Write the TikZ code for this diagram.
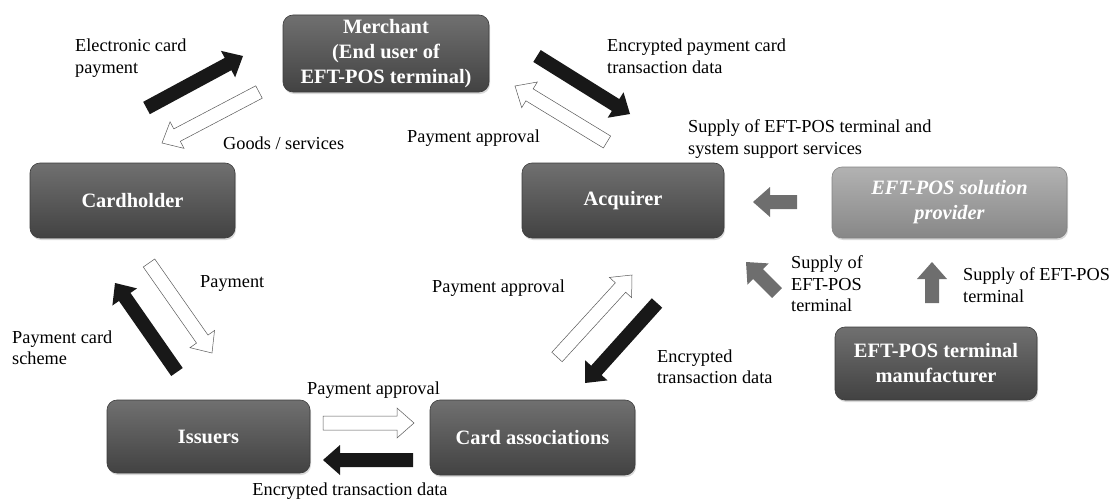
\documentclass[tikz,border=0pt]{standalone}
\usepackage{fontspec}
\setmainfont{Liberation Serif}
\usetikzlibrary{calc,shadows}
\definecolor{boxtop}{RGB}{112,112,112}\definecolor{boxbot}{RGB}{66,66,66}\definecolor{boxedge}{RGB}{60,60,60}
\definecolor{lighttop}{RGB}{178,178,178}\definecolor{lightbot}{RGB}{135,135,135}\definecolor{lightedge}{RGB}{130,130,130}
\definecolor{arrblack}{RGB}{24,24,24}\definecolor{arrgray}{RGB}{110,110,110}
\tikzset{box/.style={rounded corners=10pt,top color=boxtop,bottom color=boxbot,draw=boxedge,line width=.6pt,text=white,
  font=\fontsize{20.4}{25}\selectfont\bfseries,align=center,minimum width=205pt,minimum height=75pt,inner sep=0pt,
  drop shadow={shadow xshift=1pt,shadow yshift=-2pt,opacity=.3,fill=gray}},
  lightbox/.style={box,top color=lighttop,bottom color=lightbot,draw=lightedge,font=\fontsize{20.4}{25}\selectfont\bfseries\itshape},
  lbl/.style={font=\fontsize{18.3}{21.5}\selectfont,align=left,anchor=west,inner sep=0pt},
  blk/.style={fill=arrblack,draw=none},wht/.style={fill=white,draw=gray!70!black,line width=.5pt},gry/.style={fill=arrgray,draw=none}}
\newcommand{\blockarrow}[3]{\path ($(#3)!17pt!(#2)$) coordinate (hb);
  \draw[#1] ($(#2)!7pt!90:(#3)$)--($(hb)!7pt!90:(#3)$)--($(hb)!15pt!90:(#3)$)--(#3)--($(hb)!15pt!-90:(#3)$)--($(hb)!7pt!-90:(#3)$)--($(#2)!7pt!-90:(#3)$)--cycle;}
\begin{document}
\begin{tikzpicture}[x=1pt,y=-1pt]
\useasboundingbox (0,0) rectangle (1114,503);
\node[box,minimum width=206pt,minimum height=77pt] (merchant) at (386,53.5) {Merchant\\(End user of\\EFT-POS terminal)};
\node[box] (cardholder) at (132.5,200.5) {Cardholder};
\node[box,minimum width=202pt] (acquirer) at (623,200.5) {Acquirer};
\node[lightbox,minimum width=235pt,minimum height=71pt] (provider) at (949.5,202.5) {EFT-POS solution\\provider};
\node[box,minimum width=202pt,minimum height=73pt] (maker) at (936,363.5) {EFT-POS terminal\\manufacturer};
\node[box,minimum width=203pt,minimum height=73pt] (issuers) at (208.5,436.5) {Issuers};
\node[box] (assoc) at (532.5,437.5) {Card associations};
\coordinate (a1s) at (146.5,108);\coordinate (a1e) at (243,56);\coordinate (a2s) at (259,92);\coordinate (a2e) at (162,143);
\coordinate (a3s) at (537,56);\coordinate (a3e) at (630,114);\coordinate (a4s) at (607,142);\coordinate (a4e) at (515,86);
\coordinate (a5s) at (557,357);\coordinate (a5e) at (632,275);\coordinate (a6s) at (657,303);\coordinate (a6e) at (585,383);
\coordinate (a7s) at (797,202);\coordinate (a7e) at (753,202);\coordinate (a8s) at (777,293);\coordinate (a8e) at (746,262);
\coordinate (a9s) at (932,303);\coordinate (a9e) at (932,262);\coordinate (a10s) at (177,372);\coordinate (a10e) at (115,283);
\coordinate (a11s) at (149,263);\coordinate (a11e) at (212,353);\coordinate (a12s) at (323,423);\coordinate (a12e) at (414,423);
\coordinate (a13s) at (413,460);\coordinate (a13e) at (323,460);
\blockarrow{blk}{a1s}{a1e}\blockarrow{wht}{a2s}{a2e}\blockarrow{blk}{a3s}{a3e}\blockarrow{wht}{a4s}{a4e}
\blockarrow{wht}{a5s}{a5e}\blockarrow{blk}{a6s}{a6e}\blockarrow{gry}{a7s}{a7e}\blockarrow{gry}{a8s}{a8e}
\blockarrow{gry}{a9s}{a9e}\blockarrow{blk}{a10s}{a10e}\blockarrow{wht}{a11s}{a11e}\blockarrow{wht}{a12s}{a12e}
\blockarrow{blk}{a13s}{a13e}
\node[lbl] (tECP) at (75,58) {Electronic card\\payment};
\node[lbl] (tGoods) at (223,143) {Goods / services};
\node[lbl] (tEnc1) at (607,56) {Encrypted payment card\\transaction data};
\node[lbl] (tPA1) at (407,138) {Payment approval};
\node[lbl] (tSup1) at (688,139) {Supply of EFT-POS terminal and\\system support services};
\node[lbl] (tPA2) at (432,288) {Payment approval};
\node[lbl] (tEnc2) at (657,366.5) {Encrypted\\transaction data};
\node[lbl] (tSup2) at (791,284) {Supply of\\EFT-POS\\terminal};
\node[lbl] (tSup3) at (963,285) {Supply of EFT-POS\\terminal};
\node[lbl] (tPay) at (200,283) {Payment};
\node[lbl] (tPCS) at (12,347.5) {Payment card\\scheme};
\node[lbl] (tPA3) at (307,390) {Payment approval};
\node[lbl,anchor=center] (tEnc3) at (350,491) {Encrypted transaction data};
\end{tikzpicture}
\end{document}
